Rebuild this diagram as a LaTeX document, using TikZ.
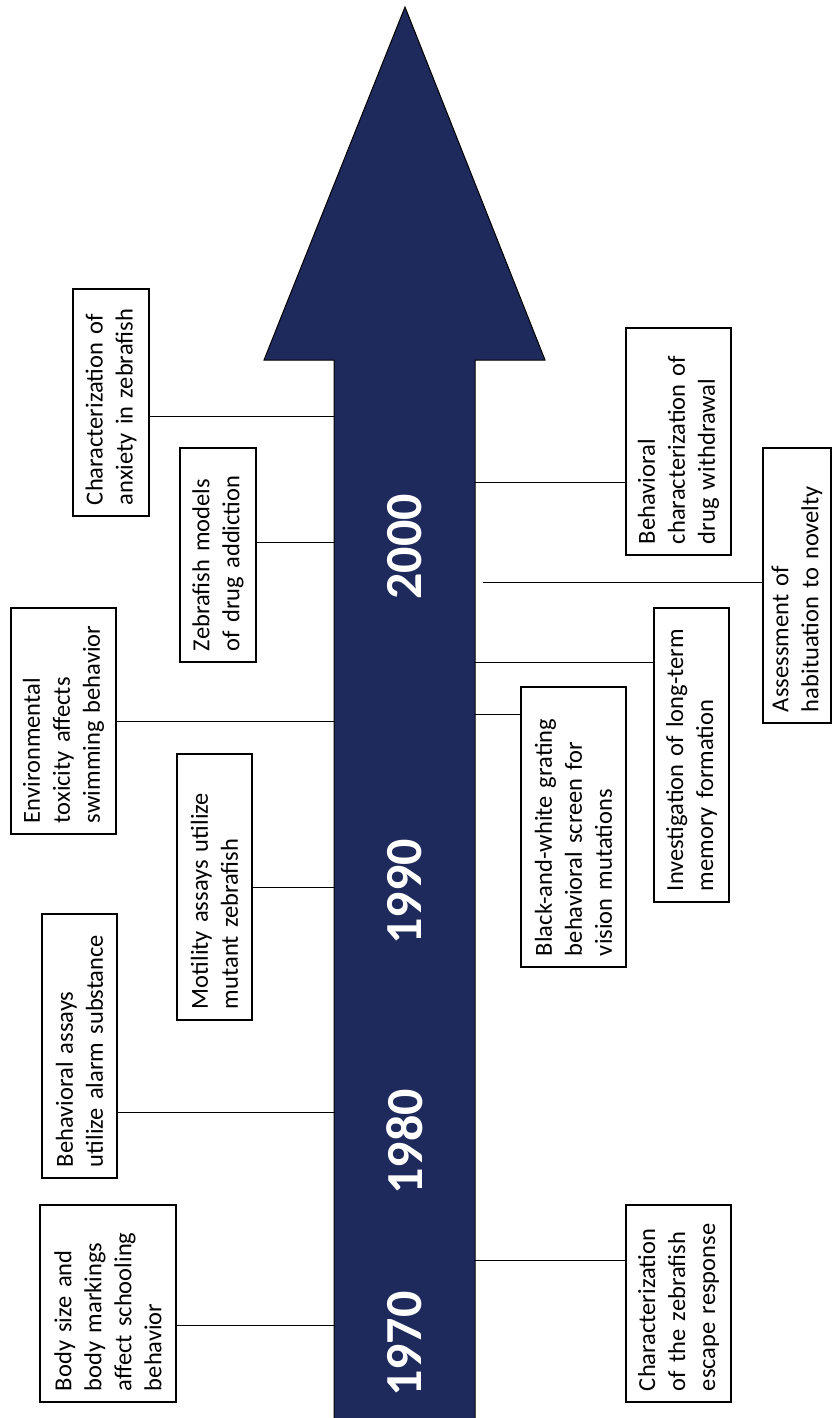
\documentclass[tikz,border=0pt]{standalone}
\usepackage{fontspec}
\setmainfont{Carlito}
\definecolor{timenavy}{RGB}{31,42,92}
\tikzset{
  event/.style={draw=black, line width=1.2pt, rotate=90, align=left, inner xsep=11pt, inner ysep=0pt, font=\fontsize{24.5}{30}\selectfont},
  yearlabel/.style={rotate=90, text=white, inner sep=0pt, font=\fontsize{52}{60}\selectfont\bfseries},
  link/.style={line width=1pt}
}
\begin{document}
\begin{tikzpicture}[x=1pt,y=-1pt]
\useasboundingbox (0,0) rectangle (833,1418);
\fill[timenavy] (334,1418) -- (334,360) -- (264,360) -- (405,7) -- (545,360) -- (475,360) -- (475,1418) -- cycle;
\draw[line width=1pt] (334,1418) -- (334,360) -- (264,360) -- (405,7) -- (545,360) -- (475,360) -- (475,1418);
\node[yearlabel] (y2000) at (405,547) {2000};
\node[yearlabel] (y1990) at (405,892) {1990};
\node[yearlabel] (y1980) at (405,1142) {1980};
\node[yearlabel] (y1970) at (405,1344) {1970};
\node[event, text width=175pt, minimum height=136pt] (schooling) at (108,1303.5) {Body size and\\body markings\\affect schooling\\behavior};
\node[event, text width=242pt, minimum height=75pt] (alarm) at (79.5,1046) {Behavioral assays\\utilize alarm substance};
\node[event, text width=244pt, minimum height=75pt] (motility) at (214.5,887) {Motility assays utilize\\mutant zebrafish};
\node[event, text width=204pt, minimum height=105pt] (toxicity) at (63.5,721) {Environmental\\toxicity affects\\swimming behavior};
\node[event, text width=192pt, minimum height=76pt] (addiction) at (218,555) {Zebrafish models\\of drug addiction};
\node[event, text width=205pt, minimum height=76pt] (anxiety) at (111,402.5) {Characterization of\\anxiety in zebrafish};
\node[event, text width=175pt, minimum height=105pt] (escape) at (678.5,1303.5) {Characterization\\of the zebrafish\\escape response};
\node[event, text width=258pt, minimum height=105pt] (grating) at (573.5,827) {Black-and-white grating\\behavioral screen for\\vision mutations};
\node[event, text width=272pt, minimum height=75pt] (memory) at (691.5,755) {Investigation of long-term\\memory formation};
\node[event, text width=253pt, minimum height=68pt] (novelty) at (797,585.5) {Assessment of\\habituation to novelty};
\node[event, text width=205pt, minimum height=105pt] (withdrawal) at (678.5,441.5) {Behavioral\\characterization of\\drug withdrawal};
\coordinate (t1) at (334,1325);
\coordinate (t2) at (334,1112);
\coordinate (t3) at (334,887);
\coordinate (t4) at (334,721);
\coordinate (t5) at (334,542);
\coordinate (t6) at (334,416);
\coordinate (r1) at (475,1260);
\coordinate (r2) at (475,714);
\coordinate (r3) at (475,662);
\coordinate (r4) at (483,582);
\coordinate (r5) at (475,482);
\draw[link] (schooling.south |- t1) -- (t1);
\draw[link] (alarm.south |- t2) -- (t2);
\draw[link] (motility.south |- t3) -- (t3);
\draw[link] (toxicity.south |- t4) -- (t4);
\draw[link] (addiction.south |- t5) -- (t5);
\draw[link] (anxiety.south |- t6) -- (t6);
\draw[link] (r1) -- (escape.north |- r1);
\draw[link] (r2) -- (grating.north |- r2);
\draw[link] (r3) -- (memory.north |- r3);
\draw[link] (r4) -- (novelty.north |- r4);
\draw[link] (r5) -- (withdrawal.north |- r5);
\end{tikzpicture}
\end{document}
